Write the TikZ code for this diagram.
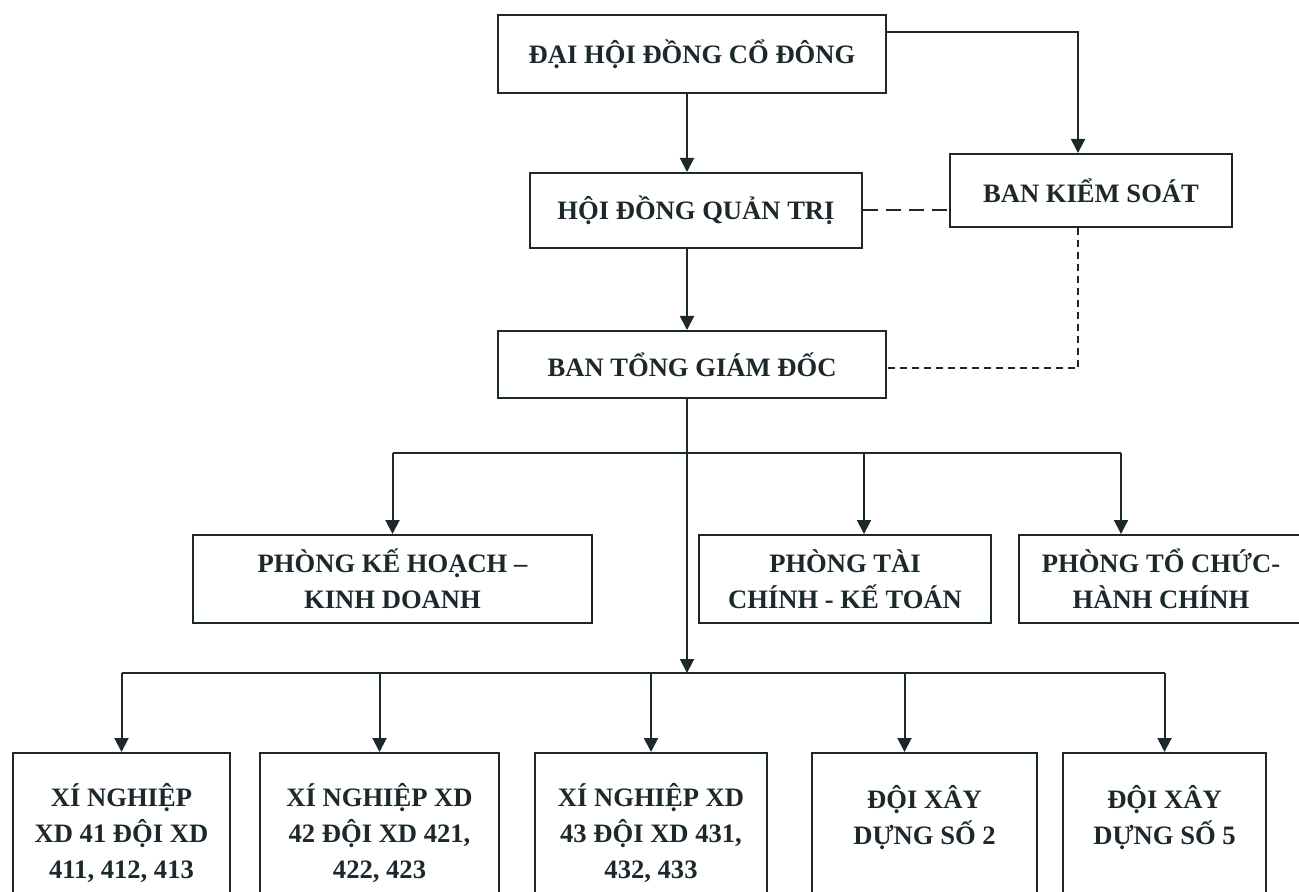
\documentclass[tikz,border=0pt]{standalone}
\usepackage{fontspec}
\setmainfont{Liberation Serif}
\usetikzlibrary{arrows.meta}
\definecolor{ink}{RGB}{28,40,44}

\begin{document}
\begin{tikzpicture}[x=0.5pt, y=-0.5pt, line width=1pt,
    main/.style = {draw=ink, rectangle, inner sep=0pt, align=center, text=ink,
                   font=\bfseries\fontsize{13.3}{18}\selectfont},
    arr/.style = {draw=ink, -{Triangle[length=7pt,width=7pt]}}]
        \useasboundingbox (0,0) rectangle (1299,892);
        \clip (0,0) rectangle (1299,892);

        \node[main, minimum width=194pt, minimum height=39pt] (dh) at (692,54) {ĐẠI HỘI ĐỒNG CỔ ĐÔNG};
        \node[main, minimum width=166pt, minimum height=37.5pt] (hd) at (696,210.5) {HỘI ĐỒNG QUẢN TRỊ};
        \node[main, minimum width=141pt, minimum height=36.5pt] (bks) at (1091,190.5) {BAN KIỂM SOÁT};
        \node[main, minimum width=194pt, minimum height=33.5pt] (tgd) at (692,364.5) {BAN TỔNG GIÁM ĐỐC};

        \node[main, minimum width=199.5pt, minimum height=44pt] (pkh) at (392.5,579) {PHÒNG KẾ HOẠCH –\\KINH DOANH};
        \node[main, minimum width=146pt, minimum height=44pt] (ptc) at (845,579) {PHÒNG TÀI\\CHÍNH - KẾ TOÁN};
        \node[main, minimum width=142pt, minimum height=44pt] (ptchc) at (1161,579) {PHÒNG TỔ CHỨC-\\HÀNH CHÍNH};

        \node[main, minimum width=108.5pt, minimum height=80pt] (xn1) at (121.5,833) {XÍ NGHIỆP\\XD 41 ĐỘI XD\\411, 412, 413};
        \node[main, minimum width=119.5pt, minimum height=80pt] (xn2) at (379.5,833) {XÍ NGHIỆP XD\\42 ĐỘI XD 421,\\422, 423};
        \node[main, minimum width=116pt, minimum height=80pt] (xn3) at (651,833) {XÍ NGHIỆP XD\\43 ĐỘI XD 431,\\432, 433};
        \node[main, minimum width=112.5pt, minimum height=80pt] (dx2) at (924.5,833) {ĐỘI XÂY\\DỰNG SỐ 2\\\mbox{}};
        \node[main, minimum width=101.5pt, minimum height=80pt] (dx5) at (1164.5,833) {ĐỘI XÂY\\DỰNG SỐ 5\\\mbox{}};

        \coordinate (axis) at (687,0);
        \coordinate (bksx) at (1078,0);
        \coordinate (bus1) at (0,453);
        \coordinate (bus2) at (0,673);
        \coordinate (tcin) at ([xshift=9.5pt]ptc.north);
        \coordinate (tchcin) at ([xshift=-20pt]ptchc.north);
        \coordinate (dx2in) at ([xshift=-10pt]dx2.north);

        \draw[arr] (dh.south -| axis) -- (hd.north -| axis);
        \draw[arr] (hd.south -| axis) -- (tgd.north -| axis);
        \draw[arr] ([yshift=11pt]dh.east) -| (bks.north -| bksx);
        \draw[ink, dash pattern=on 7.5pt off 4pt] (hd.east) -- (hd.east -| bks.west);
        \draw[ink, dash pattern=on 3.5pt off 2.5pt] (bks.south -| bksx) |- ([yshift=-2pt]tgd.east);

        \draw[arr] (tgd.south -| axis) -- (bus2 -| axis);
        \draw[ink] (bus1 -| pkh.north) -- (bus1 -| tchcin);
        \draw[arr] (bus1 -| pkh.north) -- (pkh.north);
        \draw[arr] (bus1 -| tcin) -- (tcin);
        \draw[arr] (bus1 -| tchcin) -- (tchcin);

        \draw[ink] (bus2 -| xn1.north) -- (bus2 -| dx5.north);
        \draw[arr] (bus2 -| xn1.north) -- (xn1.north);
        \draw[arr] (bus2 -| xn2.north) -- (xn2.north);
        \draw[arr] (bus2 -| xn3.north) -- (xn3.north);
        \draw[arr] (bus2 -| dx2in) -- (dx2in);
        \draw[arr] (bus2 -| dx5.north) -- (dx5.north);

    \end{tikzpicture}
\end{document}
